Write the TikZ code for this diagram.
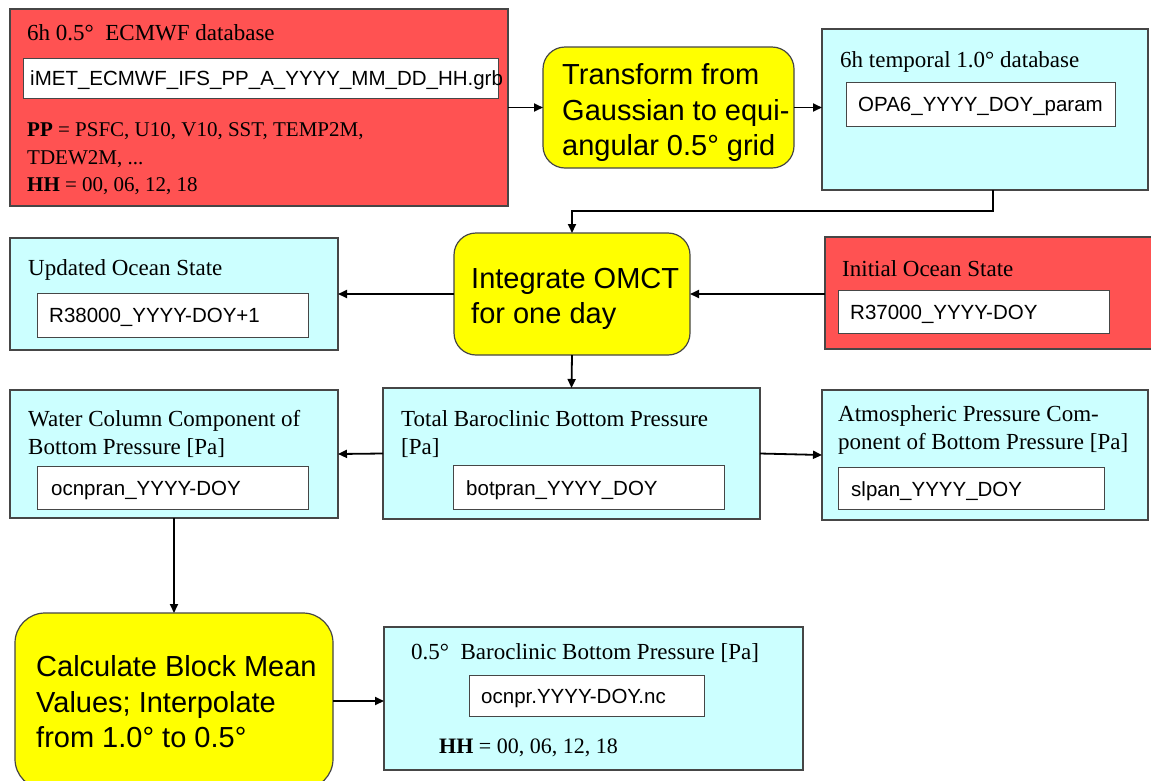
\documentclass[tikz,border=0pt]{standalone}
\usepackage{fontspec}
\setmainfont{Liberation Serif}
\setsansfont{Liberation Sans}
\usetikzlibrary{arrows.meta}
\definecolor{boxred}{RGB}{255,82,82}
\definecolor{boxcyan}{RGB}{204,255,255}
\definecolor{boxyel}{RGB}{255,255,0}
\definecolor{edgegray}{RGB}{70,70,70}
\begin{document}
\begin{tikzpicture}[x=1pt,y=-1pt,
  box/.style={draw=edgegray, line width=1.2pt, inner sep=0pt, outer sep=0pt, anchor=north west},
  redbox/.style={box, fill=boxred},
  cyanbox/.style={box, fill=boxcyan},
  yelbox/.style={box, fill=boxyel, rounded corners=22pt},
  wbox/.style={box, fill=white, line width=1pt},
  ttl/.style={anchor=west, inner sep=0pt, font=\fontsize{23}{28}\selectfont, align=left},
  body/.style={anchor=west, inner sep=0pt, font=\fontsize{21}{27.5}\selectfont, align=left},
  ftext/.style={anchor=west, inner sep=0pt, font=\sffamily\fontsize{20.5}{24}\selectfont},
  ytext/.style={anchor=west, inner sep=0pt, font=\sffamily\fontsize{29}{35.5}\selectfont, align=left},
  arr/.style={line width=1.8pt, -{Triangle[length=9pt,width=8pt]}}
]
\useasboundingbox[fill=white] (0,0) rectangle (1151,780);

% ---- row 1
\node[redbox, minimum width=498pt, minimum height=197pt] (ecm) at (10,9) {};
\node[ttl] (ecmt) at (27,33) {6h 0.5°\ \ ECMWF database};
\node[wbox, minimum width=475pt, minimum height=40pt] (ecmw) at (23,58) {};
\node[ftext] (ecmf) at (30,80) {iMET\_ECMWF\_IFS\_PP\_A\_YYYY\_MM\_DD\_HH.grb};
\node[body] (ecmb) at (27,159) {\textbf{PP} = PSFC, U10, V10, SST, TEMP2M,\\TDEW2M, ...\\\textbf{HH} = 00, 06, 12, 18};

\node[yelbox, minimum width=251pt, minimum height=121pt] (tr) at (543,47) {};
\node[ytext] (trt) at (562,113) {Transform from\\Gaussian to equi-\\angular 0.5° grid};

\node[cyanbox, minimum width=326pt, minimum height=161pt] (db1) at (822,29) {};
\node[ttl] (db1t) at (840,62) {6h temporal 1.0° database};
\node[wbox, minimum width=269pt, minimum height=44pt] (db1w) at (846,82) {};
\node[ftext] (db1f) at (858,106) {OPA6\_YYYY\_DOY\_param};

% ---- row 2
\node[cyanbox, minimum width=328pt, minimum height=112pt] (upd) at (10,238) {};
\node[ttl] (updt) at (28,270) {Updated Ocean State};
\node[wbox, minimum width=271pt, minimum height=44pt] (updw) at (37,293) {};
\node[ftext] (updf) at (49,317) {R38000\_YYYY-DOY+1};

\node[yelbox, minimum width=236pt, minimum height=122pt] (omct) at (454,233) {};
\node[ytext] (omctt) at (471,299) {Integrate OMCT\\for one day};

\node[redbox, minimum width=340pt, minimum height=112pt] (init) at (825,237) {};
\node[ttl] (initt) at (842,269) {Initial Ocean State};
\node[wbox, minimum width=271pt, minimum height=43pt] (initw) at (838,290) {};
\node[ftext] (initf) at (850,314) {R37000\_YYYY-DOY};

% ---- row 3
\node[cyanbox, minimum width=328pt, minimum height=128pt] (wc) at (10,390) {};
\node[ttl] (wct) at (28,434) {Water Column Component of\\Bottom Pressure [Pa]};
\node[wbox, minimum width=271pt, minimum height=43pt] (wcw) at (37,466) {};
\node[ftext] (wcf) at (51,490) {ocnpran\_YYYY-DOY};

\node[cyanbox, minimum width=377pt, minimum height=131pt] (tot) at (383,388) {};
\node[ttl] (tott) at (401,434) {Total Baroclinic Bottom Pressure\\{[Pa]}};
\node[wbox, minimum width=271pt, minimum height=44pt] (totw) at (453,465) {};
\node[ftext] (totf) at (466,490) {botpran\_YYYY\_DOY};

\node[cyanbox, minimum width=326pt, minimum height=130pt] (atm) at (822,390) {};
\node[ttl] (atmt) at (838,430) {Atmospheric Pressure Com-\\ponent of Bottom Pressure [Pa]};
\node[wbox, minimum width=266pt, minimum height=42pt] (atmw) at (838,467) {};
\node[ftext] (atmf) at (851,491) {slpan\_YYYY\_DOY};

% ---- row 4
\node[yelbox, rounded corners=30pt, minimum width=318pt, minimum height=176pt] (calc) at (15,613) {};
\node[ytext] (calct) at (36,702) {Calculate Block Mean\\Values; Interpolate\\from 1.0° to 0.5°};

\node[cyanbox, minimum width=419pt, minimum height=143pt] (bp5) at (384,627) {};
\node[ttl] (bp5t) at (411,653) {0.5°\ \ Baroclinic Bottom Pressure [Pa]};
\node[wbox, minimum width=235pt, minimum height=41pt] (bp5w) at (469,675) {};
\node[ftext] (bp5f) at (481,698) {ocnpr.YYYY-DOY.nc};
\node[body, font=\fontsize{22}{27}\selectfont] (bp5h) at (439,748) {\textbf{HH} = 00, 06, 12, 18};

% ---- connectors
\draw[arr] (ecm.east) -- (tr.west);
\draw[arr] (tr.east) -- (tr.east -| db1.west);
\draw[arr] ([xshift=8pt]db1.south) -- ++(0,21) -| (omct.north);
\draw[arr] (init.west |- omct.east) -- (omct.east);
\draw[arr] (omct.west) -- (upd.east);
\draw[arr] (omct.south) -- (tot.north);
\draw[arr] (tot.west) -- (wc.east);
\draw[arr] (tot.east) -- (atm.west);
\draw[arr] (wc.south) -- (calc.north);
\draw[arr] (calc.east) -- (calc.east -| bp5.west);
\end{tikzpicture}
\end{document}
